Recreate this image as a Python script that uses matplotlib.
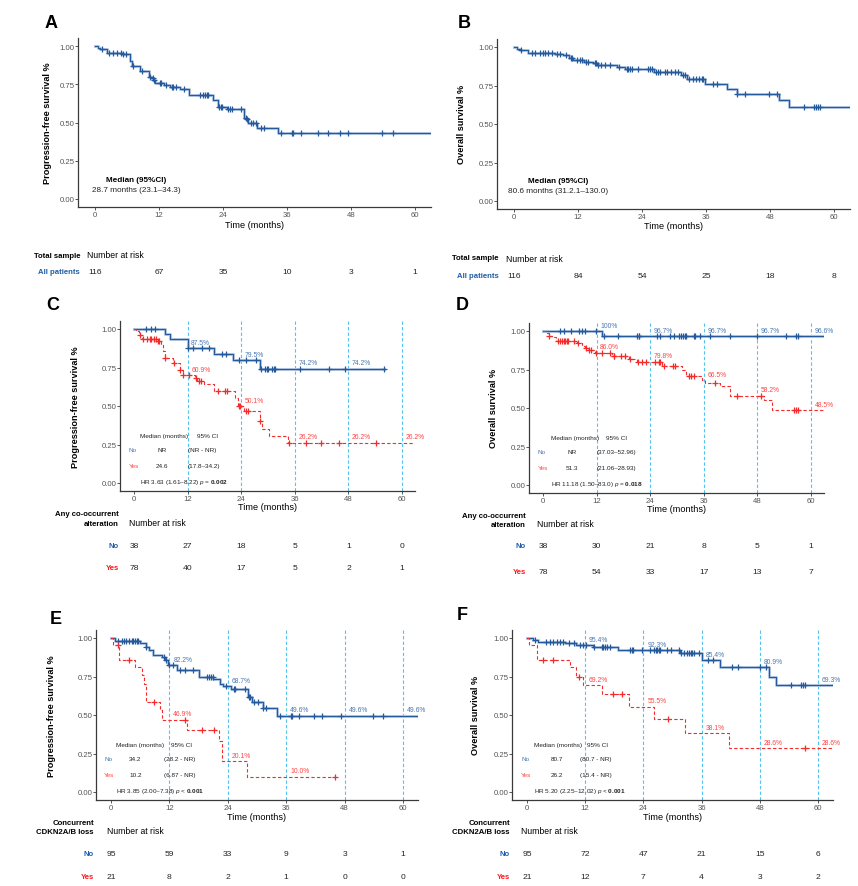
import numpy as np
import matplotlib
matplotlib.use("Agg")
import matplotlib.pyplot as plt
from matplotlib.transforms import blended_transform_factory

plt.rcParams['font.family'] = ['Liberation Sans', 'DejaVu Sans']
plt.rcParams['mathtext.fontset'] = 'custom'
plt.rcParams['mathtext.rm'] = 'Liberation Sans'
plt.rcParams['mathtext.it'] = 'Liberation Sans:italic'
plt.rcParams['mathtext.bf'] = 'Liberation Sans:bold'

W, H = 858, 887
BLUE = '#24599B'
BAND = '#B3C8E3'
RED = '#F52A2A'
TXT_BLUE = '#4A78B2'
TXT_RED = '#FF4545'
LAB_BLUE = '#1F5FA8'
LAB_RED = '#FF1A1A'
VLINE = '#55C3EE'

LANDMARKS = [12, 24, 36, 48, 60]
RISK_TIMES = [0, 12, 24, 36, 48, 60]

# ---- panel A: PFS, all patients
A_times = [0, 0.6, 1.0, 2.2, 5.0, 5.6, 6.6, 7.0, 8.5, 10.2, 10.6, 10.9, 11.2, 13.0, 14.0,
           16.0, 17.7, 22.2, 23.0, 24.7, 28.0, 28.4, 28.7, 30.3, 34.3]
A_surv = [1.0, 0.99, 0.98, 0.957, 0.95, 0.945, 0.90, 0.87, 0.835, 0.80, 0.79, 0.78, 0.757, 0.745, 0.735,
          0.72, 0.68, 0.65, 0.60, 0.585, 0.53, 0.52, 0.495, 0.465, 0.43]
A_cens = [1.4, 2.7, 3.4, 4.2, 4.8, 5.3, 5.8, 7.2, 8.8, 10.4, 10.8, 11.0, 12.1, 12.4, 13.3, 14.4, 14.7,
          15.1, 16.7, 19.6, 20.2, 20.7, 21.0, 21.2, 23.3, 23.6, 23.8, 25.0, 25.4, 25.6, 27.3, 28.3,
          28.5, 29.2, 29.7, 30.2, 31.2, 31.7, 34.8, 37.0, 37.2, 38.7, 41.8, 43.6, 45.9, 47.4, 53.9, 55.8]
A_risk = [116, 67, 35, 10, 3, 1]

# ---- panel B: OS, all patients
B_times = [0, 0.6, 1.2, 2.7, 7.7, 9.2, 10.4, 11.1, 13.2, 14.9, 15.5, 19.4, 20.8, 26.2, 31.4, 32.4,
           35.8, 39.9, 41.8, 49.6, 51.5]
B_surv = [1.0, 0.99, 0.98, 0.96, 0.955, 0.945, 0.93, 0.915, 0.905, 0.895, 0.88, 0.87, 0.855, 0.84,
          0.815, 0.79, 0.76, 0.725, 0.695, 0.655, 0.61]
B_cens = [1.4, 3.3, 3.9, 4.9, 5.4, 5.8, 6.4, 7.2, 8.0, 8.6, 9.7, 10.6, 10.8, 11.8, 12.3, 12.7, 13.5,
          13.8, 15.2, 15.4, 15.7, 16.3, 17.0, 18.0, 19.6, 21.1, 21.4, 21.7, 22.1, 23.3, 25.2, 25.5,
          25.8, 26.7, 27.0, 27.3, 28.3, 28.6, 29.5, 30.2, 30.8, 31.7, 32.0, 32.9, 33.6, 34.1, 34.6,
          35.2, 35.5, 37.4, 38.1, 41.9, 43.3, 47.9, 49.3, 54.4, 56.3, 56.7, 57.0, 57.4]
B_risk = [116, 84, 54, 25, 18, 8]

# ---- panel C: PFS by any co-occurrent alteration
C_no_times = [0, 6.9, 8.0, 12.0, 18.0, 22.1, 28.2]
C_no_surv = [1.0, 0.967, 0.935, 0.875, 0.84, 0.796, 0.742]
C_no_cens = [2.6, 3.9, 4.8, 12.1, 13.3, 15.2, 16.9, 19.6, 20.7, 23.4, 25.0, 27.3, 28.4, 29.4, 29.7,
             30.1, 31.0, 31.4, 31.6, 37.1, 43.6, 47.3, 56.0]
C_yes_times = [0, 0.5, 1.1, 1.9, 5.0, 6.1, 6.5, 6.9, 8.8, 10.3, 10.9, 13.6, 14.2, 15.7, 17.8, 22.6,
               23.2, 24.7, 28.1, 28.6, 30.3, 34.4]
C_yes_surv = [1.0, 0.987, 0.96, 0.935, 0.92, 0.90, 0.86, 0.81, 0.78, 0.735, 0.70, 0.68, 0.665, 0.645,
              0.60, 0.55, 0.50, 0.47, 0.40, 0.35, 0.305, 0.262]
C_yes_cens = [1.3, 2.0, 2.9, 3.5, 3.9, 4.4, 4.9, 5.3, 5.6, 7.0, 8.9, 10.4, 11.0, 12.4, 13.8, 14.6,
              15.1, 18.7, 20.4, 20.8, 23.4, 23.7, 25.1, 25.5, 28.2, 34.8, 38.6, 41.9, 45.8, 54.1]
C_no_pct = ["87.5%", "79.5%", "74.2%", "74.2%"]
C_yes_pct = ["60.9%", "50.1%", "26.2%", "26.2%", "26.2%"]
C_risk_no = [38, 27, 18, 5, 1, 0]
C_risk_yes = [78, 40, 17, 5, 2, 1]
C_table = [["NR", "(NR - NR)"], ["24.6", "(17.8–34.2)"]]
C_hr = "HR 3.63 (1.61–8.22) $\\it{p}$ = $\\bf{0.002}$"

# ---- panel D: OS by any co-occurrent alteration
D_no_times = [0, 13.3]
D_no_surv = [1.0, 0.966]
D_no_cens = [3.7, 4.6, 6.3, 8.0, 8.7, 9.5, 11.9, 13.7, 16.9, 21.0, 21.4, 21.6, 25.5, 26.3, 28.4,
             29.3, 30.4, 30.9, 31.3, 31.9, 32.1, 33.7, 34.1, 35.1, 37.3, 41.8, 47.8, 54.3, 56.7, 57.1]
D_yes_times = [0, 0.9, 1.3, 2.0, 3.0, 7.6, 8.7, 9.5, 10.2, 11.6, 15.4, 15.8, 19.2, 21.0, 26.6, 31.1,
               32.1, 35.5, 36.2, 39.7, 41.8, 49.4, 51.3]
D_yes_surv = [1.0, 0.985, 0.97, 0.96, 0.935, 0.92, 0.905, 0.89, 0.875, 0.86, 0.85, 0.84, 0.82, 0.80,
              0.77, 0.745, 0.705, 0.68, 0.665, 0.64, 0.58, 0.55, 0.485]
D_yes_cens = [1.4, 3.3, 3.7, 4.2, 4.6, 5.0, 5.4, 5.7, 7.0, 7.8, 9.6, 10.4, 10.8, 11.9, 13.2, 15.1,
              15.9, 16.0, 17.5, 18.4, 19.4, 21.2, 22.2, 23.1, 25.1, 25.9, 26.3, 27.0, 29.1, 29.6,
              32.6, 33.2, 33.8, 38.5, 43.5, 48.9, 56.1, 56.7, 57.2]
D_no_pct = ["100%", "96.7%", "96.7%", "96.7%", "96.6%"]
D_yes_pct = ["86.0%", "79.8%", "66.5%", "58.2%", "48.5%"]
D_risk_no = [38, 30, 21, 8, 5, 1]
D_risk_yes = [78, 54, 33, 17, 13, 7]
D_table = [["NR", "(37.03–52.96)"], ["51.3", "(21.06–28.93)"]]
D_hr = "HR 11.18 (1.50–83.0) $\\it{p}$ = $\\bf{0.018}$"

# ---- panel E: PFS by concurrent CDKN2A/B loss
E_no_times = [0, 0.8, 6.0, 7.1, 7.9, 8.6, 10.4, 11.1, 11.7, 13.5, 18.0, 21.0, 22.4, 23.1, 24.7,
              28.1, 29.0, 31.2, 34.2]
E_no_surv = [1.0, 0.98, 0.97, 0.94, 0.92, 0.89, 0.875, 0.86, 0.822, 0.795, 0.745, 0.735, 0.70,
             0.687, 0.67, 0.62, 0.585, 0.545, 0.496]
E_no_cens = [1.5, 2.2, 2.7, 3.1, 3.6, 4.3, 4.6, 4.9, 5.3, 5.6, 7.2, 10.8, 11.3, 12.0, 12.8, 14.2,
             15.2, 16.8, 19.8, 20.2, 20.5, 20.9, 23.6, 25.2, 25.5, 27.6, 28.3, 28.6, 29.3, 30.3,
             31.3, 31.8, 34.8, 37.0, 37.2, 38.7, 41.8, 43.4, 47.3, 53.9, 55.9]
E_yes_times = [0, 0.5, 1.6, 4.9, 6.3, 6.8, 7.1, 10.1, 10.4, 15.6, 22.1, 22.8, 27.9]
E_yes_surv = [1.0, 0.952, 0.857, 0.81, 0.762, 0.70, 0.587, 0.53, 0.469, 0.40, 0.33, 0.201, 0.10]
E_yes_cens = [1.5, 3.6, 8.8, 15.2, 18.7, 21.1, 46.0]
E_no_pct = ["82.2%", "68.7%", "49.6%", "49.6%", "49.6%"]
E_yes_pct = ["46.9%", "20.1%", "10.0%"]
E_risk_no = [95, 59, 33, 9, 3, 1]
E_risk_yes = [21, 8, 2, 1, 0, 0]
E_table = [["34.2", "(28.2 - NR)"], ["10.2", "(6.87 - NR)"]]
E_hr = "HR 3.85 (2.00–7.38) $\\it{p}$ < $\\bf{0.001}$"

# ---- panel F: OS by concurrent CDKN2A/B loss
F_no_times = [0, 1.2, 2.3, 7.8, 10.2, 13.6, 18.8, 31.6, 36.0, 39.8, 49.8, 51.4]
F_no_surv = [1.0, 0.99, 0.977, 0.965, 0.954, 0.94, 0.923, 0.90, 0.854, 0.809, 0.75, 0.693]
F_no_cens = [1.6, 4.0, 4.7, 5.4, 6.1, 6.8, 7.4, 8.7, 9.7, 10.9, 11.6, 12.2, 13.8, 15.4, 15.7, 16.1,
             16.4, 17.1, 21.2, 21.6, 21.9, 23.7, 25.4, 26.1, 26.5, 26.8, 27.2, 27.5, 28.8, 29.7,
             31.3, 31.8, 32.4, 32.9, 33.4, 33.8, 34.0, 34.5, 35.5, 37.4, 38.3, 42.2, 43.5, 48.0,
             49.3, 54.5, 56.5, 56.9, 57.4]
F_yes_times = [0, 0.5, 2.1, 8.8, 10.2, 11.6, 15.5, 21.0, 26.2, 32.6, 41.7]
F_yes_surv = [1.0, 0.952, 0.857, 0.81, 0.75, 0.692, 0.635, 0.555, 0.476, 0.381, 0.286]
F_yes_cens = [3.2, 5.4, 10.7, 17.8, 19.5, 29.1, 57.4]
F_no_pct = ["95.4%", "92.3%", "85.4%", "80.9%", "69.3%"]
F_yes_pct = ["69.2%", "55.5%", "38.1%", "28.6%", "28.6%"]
F_risk_no = [95, 72, 47, 21, 15, 6]
F_risk_yes = [21, 12, 7, 4, 3, 2]
F_table = [["80.7", "(80.7 - NR)"], ["26.2", "(15.4 - NR)"]]
F_hr = "HR 5.20 (2.25–12.02) $\\it{p}$ < $\\bf{0.001}$"

fig = plt.figure(figsize=(W / 100, H / 100), dpi=100)
fig.patch.set_facecolor('white')


def make_axes(x0, x60, y1, y0, ylabel, label_x, xlab_y):
    # x0/x60 = pixel of month 0/60, y1/y0 = pixel of survival 1.0/0.0
    ppm = (x60 - x0) / 60.0
    ppu = y0 - y1
    left = x0 - 3.1 * ppm
    right = x0 + 63 * ppm
    top = y1 - 0.055 * ppu
    bottom = y0 + 0.052 * ppu
    ax = fig.add_axes([left / W, 1 - bottom / H, (right - left) / W, (bottom - top) / H])
    ax.set_xlim(-3.1, 63)
    ax.set_ylim(-0.052, 1.055)
    ax.set_xticks(RISK_TIMES)
    ax.set_yticks([0, 0.25, 0.5, 0.75, 1.0])
    ax.set_yticklabels(["0.00", "0.25", "0.50", "0.75", "1.00"])
    for s in ['top', 'right']:
        ax.spines[s].set_visible(False)
    for s in ['left', 'bottom']:
        ax.spines[s].set_color('#3a3a3a')
        ax.spines[s].set_linewidth(0.9)
    ax.tick_params(length=2.0, width=0.6, pad=0.6, labelsize=5.6, colors='#3a3a3a',
                   labelcolor='#555555')
    ax.set_ylabel(ylabel, fontsize=6.6, fontweight='bold', va='center')
    ax.yaxis.set_label_coords((label_x - left) / (right - left), 0.5)
    ax.set_xlabel("Time (months)", fontsize=6.6, va='center')
    ax.xaxis.set_label_coords(0.5, (bottom - xlab_y) / (bottom - top))
    return ax


def step_at(times, surv, t):
    i = np.searchsorted(times, t, side='right') - 1
    return np.asarray(surv)[i]


def km_curve(ax, times, surv, cens, end, color, dashed=False):
    t = list(times) + [end]
    s = list(surv) + [surv[-1]]
    if not dashed:
        ax.step(t, s, where='post', color=BAND, lw=2.2, zorder=2)
        ax.step(t, s, where='post', color=color, lw=0.8, zorder=3)
    else:
        ax.step(t, s, where='post', color=color, lw=0.8, ls=(0, (3, 2)), zorder=3)
    ax.plot(cens, step_at(times, surv, cens), ls='none', marker='+', ms=4.2, mew=0.9,
            color=color, zorder=4)


def pct_labels(ax, times, surv, labels, color):
    for t, lab in zip(LANDMARKS, labels):
        ax.text(t + 0.8, step_at(times, surv, t) + 0.038, lab, fontsize=4.9, color=color,
                ha='left', va='center', zorder=5)


def med_table(ax, cols, rows, hr):
    hx, cix, labx, medx, cx = cols
    ax.text(hx, 0.31, "Median (months)", fontsize=4.6, color='#222222', va='center')
    ax.text(cix, 0.31, "95% CI", fontsize=4.6, color='#222222', va='center')
    for (med, ci), y, name, c in zip(rows, [0.215, 0.115], ["No", "Yes"], [TXT_BLUE, TXT_RED]):
        ax.text(labx, y, name, fontsize=4.6, color=c, va='center')
        ax.text(medx, y, med, fontsize=4.6, color='#222222', va='center', ha='center')
        ax.text(cx, y, ci, fontsize=4.6, color='#222222', va='center')
    ax.text(hx, 0.012, hr, fontsize=4.6, color='#222222', va='center')


def risk_table(ax, head1, head2, label_right, num_left, y_head, rows):
    tr = blended_transform_factory(ax.transData, fig.transFigure)
    if head2 is None:
        fig.text(label_right / W, 1 - y_head / H, head1, fontsize=5.6, fontweight='bold',
                 ha='right', va='center')
    else:
        fig.text(label_right / W, 1 - (y_head - 8) / H, head1, fontsize=5.6, fontweight='bold',
                 ha='right', va='center')
        fig.text(label_right / W, 1 - (y_head + 1) / H, head2, fontsize=5.6, fontweight='bold',
                 ha='right', va='center')
    fig.text(num_left / W, 1 - y_head / H, "Number at risk", fontsize=6.2, ha='left',
             va='center')
    for name, color, ypx, vals in rows:
        fig.text(label_right / W, 1 - ypx / H, name, fontsize=5.6, fontweight='bold',
                 color=color, ha='right', va='center')
        for t, v in zip(RISK_TIMES, vals):
            ax.text(t, 1 - ypx / H, str(v), transform=tr, fontsize=6.1, ha='center',
                    va='center', color='#222222')


def vlines(ax):
    for t in LANDMARKS:
        ax.axvline(t, color=VLINE, lw=0.8, ls=(0, (3, 2)), zorder=1)


def panel_letter(x, y, s):
    fig.text(x / W, 1 - y / H, s, fontsize=13, fontweight='bold', ha='center', va='center')


# ---- A
axA = make_axes(95, 415, 47, 200, "Progression-free survival %", 47, 225)
km_curve(axA, A_times, A_surv, A_cens, 63, BLUE)
axA.text(7.7, 0.13, "Median (95%CI)", fontsize=5.9, fontweight='bold', ha='center', va='center')
axA.text(7.7, 0.065, "28.7 months (23.1–34.3)", fontsize=5.9, ha='center', va='center',
         color='#222222')
risk_table(axA, "Total sample", None, 80, 87, 256, [("All patients", LAB_BLUE, 273, A_risk)])
panel_letter(51, 23, "A")

# ---- B
axB = make_axes(514, 834, 48, 202, "Overall survival %", 461, 227)
km_curve(axB, B_times, B_surv, B_cens, 63, BLUE)
axB.text(8.3, 0.13, "Median (95%CI)", fontsize=5.9, fontweight='bold', ha='center', va='center')
axB.text(8.3, 0.065, "80.6 months (31.2.1–130.0)", fontsize=5.9, ha='center', va='center',
         color='#222222')
risk_table(axB, "Total sample", None, 499, 506, 259, [("All patients", LAB_BLUE, 276, B_risk)])
panel_letter(464, 23, "B")

# ---- C
axC = make_axes(134, 402, 330, 484, "Progression-free survival %", 75, 508)
vlines(axC)
km_curve(axC, C_no_times, C_no_surv, C_no_cens, 56.0, BLUE)
km_curve(axC, C_yes_times, C_yes_surv, C_yes_cens, 63, RED, dashed=True)
pct_labels(axC, C_no_times, C_no_surv, C_no_pct, TXT_BLUE)
pct_labels(axC, C_yes_times, C_yes_surv, C_yes_pct, TXT_RED)
med_table(axC, (1.4, 14.0, -1.2, 6.3, 12.1), C_table, C_hr)
risk_table(axC, "Any co-occurrent", "alteration", 119, 129, 523,
           [("No", LAB_BLUE, 546, C_risk_no), ("Yes", LAB_RED, 569, C_risk_yes)])
panel_letter(53, 305, "C")

# ---- D
axD = make_axes(543, 811, 332, 486, "Overall survival %", 493, 510)
vlines(axD)
km_curve(axD, D_no_times, D_no_surv, D_no_cens, 63, BLUE)
km_curve(axD, D_yes_times, D_yes_surv, D_yes_cens, 63, RED, dashed=True)
pct_labels(axD, D_no_times, D_no_surv, D_no_pct, TXT_BLUE)
pct_labels(axD, D_yes_times, D_yes_surv, D_yes_pct, TXT_RED)
med_table(axD, (1.8, 14.2, -1.2, 6.5, 12.1), D_table, D_hr)
risk_table(axD, "Any co-occurrent", "alteration", 526, 537, 525,
           [("No", LAB_BLUE, 547, D_risk_no), ("Yes", LAB_RED, 572, D_risk_yes)])
panel_letter(462, 305, "D")

# ---- E
axE = make_axes(111, 403, 639, 793, "Progression-free survival %", 51, 818)
vlines(axE)
km_curve(axE, E_no_times, E_no_surv, E_no_cens, 63, BLUE)
km_curve(axE, E_yes_times, E_yes_surv, E_yes_cens, 46.0, RED, dashed=True)
pct_labels(axE, E_no_times, E_no_surv, E_no_pct, TXT_BLUE)
pct_labels(axE, E_yes_times, E_yes_surv, E_yes_pct, TXT_RED)
med_table(axE, (1.0, 12.3, -1.4, 5.0, 10.8), E_table, E_hr)
risk_table(axE, "Concurrent", "CDKN2A/B loss", 94, 107, 832,
           [("No", LAB_BLUE, 855, E_risk_no), ("Yes", LAB_RED, 878, E_risk_yes)])
panel_letter(56, 619, "E")

# ---- F
axF = make_axes(527, 818, 639, 793, "Overall survival %", 476, 818)
vlines(axF)
km_curve(axF, F_no_times, F_no_surv, F_no_cens, 63, BLUE)
km_curve(axF, F_yes_times, F_yes_surv, F_yes_cens, 63, RED, dashed=True)
pct_labels(axF, F_no_times, F_no_surv, F_no_pct, TXT_BLUE)
pct_labels(axF, F_yes_times, F_yes_surv, F_yes_pct, TXT_RED)
med_table(axF, (1.4, 12.4, -1.2, 6.2, 11.0), F_table, F_hr)
risk_table(axF, "Concurrent", "CDKN2A/B loss", 510, 521, 832,
           [("No", LAB_BLUE, 855, F_risk_no), ("Yes", LAB_RED, 878, F_risk_yes)])
panel_letter(462, 616, "F")

fig.savefig("out.png", dpi=100, facecolor='white')
